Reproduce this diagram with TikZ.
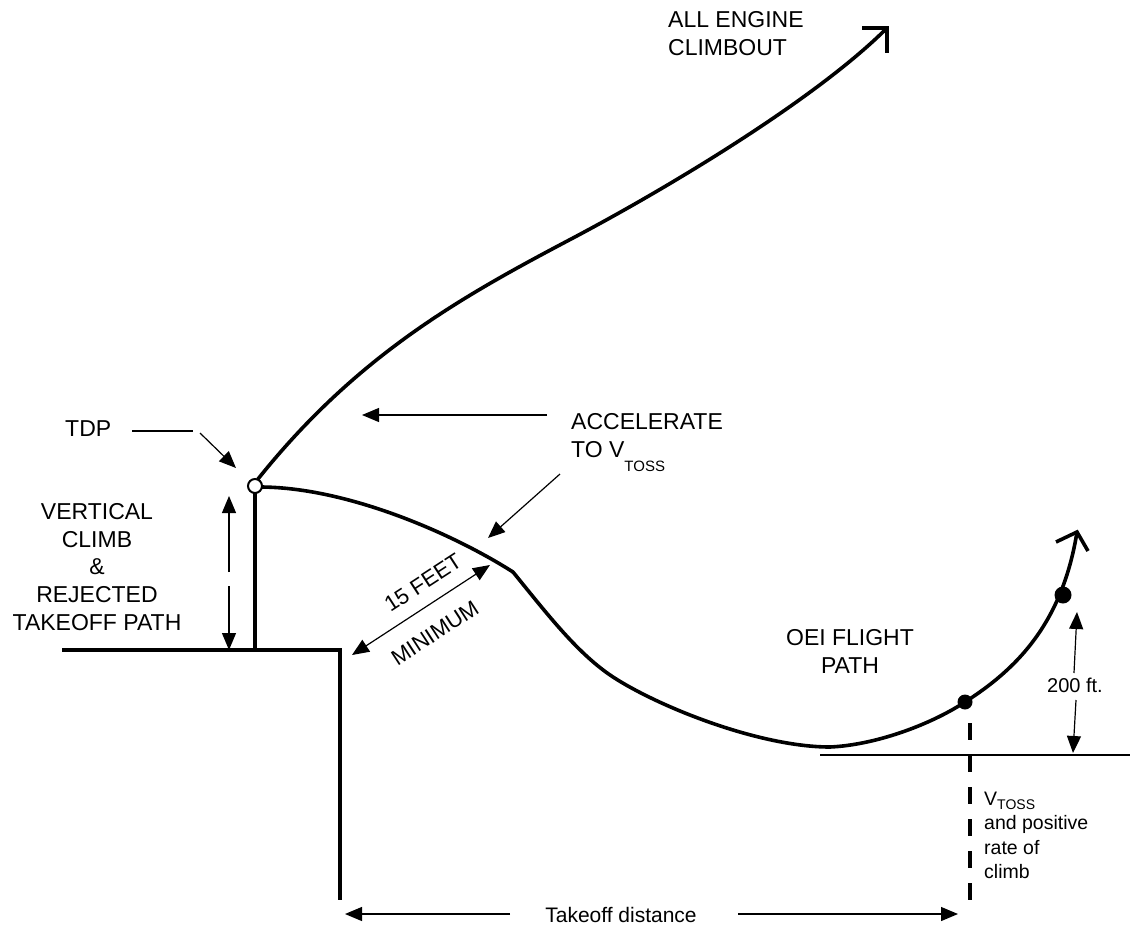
\documentclass[tikz,border=0pt]{standalone}
\usepackage{fontspec}
\setmainfont{Liberation Sans}
\usetikzlibrary{arrows.meta}
\begin{document}
\begin{tikzpicture}[x=1pt,y=-1pt,
  lbl/.style={font=\fontsize{23}{28}\selectfont, inner sep=0pt},
  sml/.style={font=\fontsize{20}{24.3}\selectfont, inner sep=0pt},
  thinarrow/.style={line width=1.2pt,-{Triangle[length=17pt,width=14pt]}},
  dblarrow/.style={line width=1.2pt,{Triangle[length=17pt,width=14pt]}-{Triangle[length=17pt,width=14pt]}},
  flight/.style={line width=3.6pt,line join=round,line cap=round},
  wing/.style={line width=3.6pt,line join=miter,line cap=butt},
  ground/.style={line width=4.5pt,line join=miter,line cap=butt}]
\useasboundingbox (0,0) rectangle (1130,932);
\fill[white] (0,0) rectangle (1130,932);

% named points
\coordinate (gl) at (62,650);
\coordinate (edge) at (340,650);
\coordinate (cliffbot) at (340,900);
\coordinate (vbase) at (255,650);
\coordinate (tdp) at (255,486);
\coordinate (aestart) at (258,479);
\coordinate (aemid) at (573,238);
\coordinate (aetip) at (887,28);
\coordinate (oeistart) at (262,487);
\coordinate (kink) at (513,572);
\coordinate (oeiA) at (613,677);
\coordinate (oeimin) at (830,747);
\coordinate (oeitip) at (1077,532);
\coordinate (dotA) at (965,702);
\coordinate (dotB) at (1063,595);

% ground and cliff
\draw[ground] (gl) -- (edge) -- (cliffbot);
\draw[line width=2pt] (820,755) -- (1130,755);
\draw[line width=4pt] (vbase) -- (tdp);

% all engine climbout
\draw[flight] (aestart) .. controls (358,354) and (463,296) .. (aemid)
  .. controls (673,185) and (817,98) .. (aetip);
\draw[wing] (862,28) -- (aetip) -- (887,53);

% OEI flight path
\draw[flight] (oeistart) .. controls (350,488) and (455,535) .. (kink);
\draw[flight] (kink) .. controls (548,615) and (578,654) .. (oeiA)
  .. controls (660,707.5) and (760,747) .. (oeimin)
  .. controls (875,745) and (930,725) .. (dotA)
  .. controls (1015,670) and (1062,625) .. (oeitip);
\draw[wing] (1056,542) -- (oeitip) -- (1088,551);
\fill (dotA) circle[radius=7.5];
\fill (dotB) circle[radius=8.5];

% TDP point
\draw[line width=2pt, fill=white] (tdp) circle[radius=7];

% dashed line
\draw[line width=4.5pt, dash pattern=on 17pt off 15pt] (970,723) -- (970,900);

% labels
\node[lbl, anchor=west] (tdplbl) at (65,429) {TDP};
\draw[line width=1.2pt] (132,431) -- (193,431);
\draw[thinarrow] (200,433) -- (236,468);

\node[lbl, align=center, anchor=north, font=\fontsize{23}{27.75}\selectfont] (vclbl) at (97,503) {VERTICAL\\CLIMB\\\&\\REJECTED\\TAKEOFF PATH};
\draw[thinarrow] (229,572) -- (229,496);
\draw[thinarrow] (229,586) -- (229,650);

\node[lbl, align=left, anchor=north west] (aelbl) at (668,11) {ALL ENGINE\\CLIMBOUT};

\node[lbl, align=left, anchor=north west] (acc) at (571,413) {ACCELERATE\\TO V\raisebox{-14pt}{\fontsize{15}{15}\selectfont TOSS}};
\draw[thinarrow] (547,415) -- (362,415);
\draw[thinarrow] (560,474) -- (488,538);

\draw[dblarrow] (352,655) -- (490,565);
\node[lbl, font=\fontsize{22}{26}\selectfont, rotate=33] (ft15) at (423,583) {15 FEET};
\node[lbl, font=\fontsize{22}{26}\selectfont, rotate=33] (minlbl) at (435,633) {MINIMUM};

\node[lbl, align=center, anchor=north] (oeilbl) at (850,629) {OEI FLIGHT\\PATH};

\node[sml] (ftlbl) at (1075,685) {200 ft.};
\draw[thinarrow] (1074,673) -- (1077,612);
\draw[thinarrow] (1076,700) -- (1073,753);

\node[sml, align=left, anchor=north west, font=\fontsize{19.5}{24.3}\selectfont] (vtoss) at (984,792) {V\raisebox{-4pt}{\fontsize{14}{14}\selectfont TOSS}\\and positive\\rate of\\climb};

\node[sml, font=\fontsize{21}{24}\selectfont] (tod) at (621,915) {Takeoff distance};
\draw[thinarrow] (510,914) -- (345,914);
\draw[thinarrow] (738,914) -- (958,914);
\end{tikzpicture}
\end{document}
